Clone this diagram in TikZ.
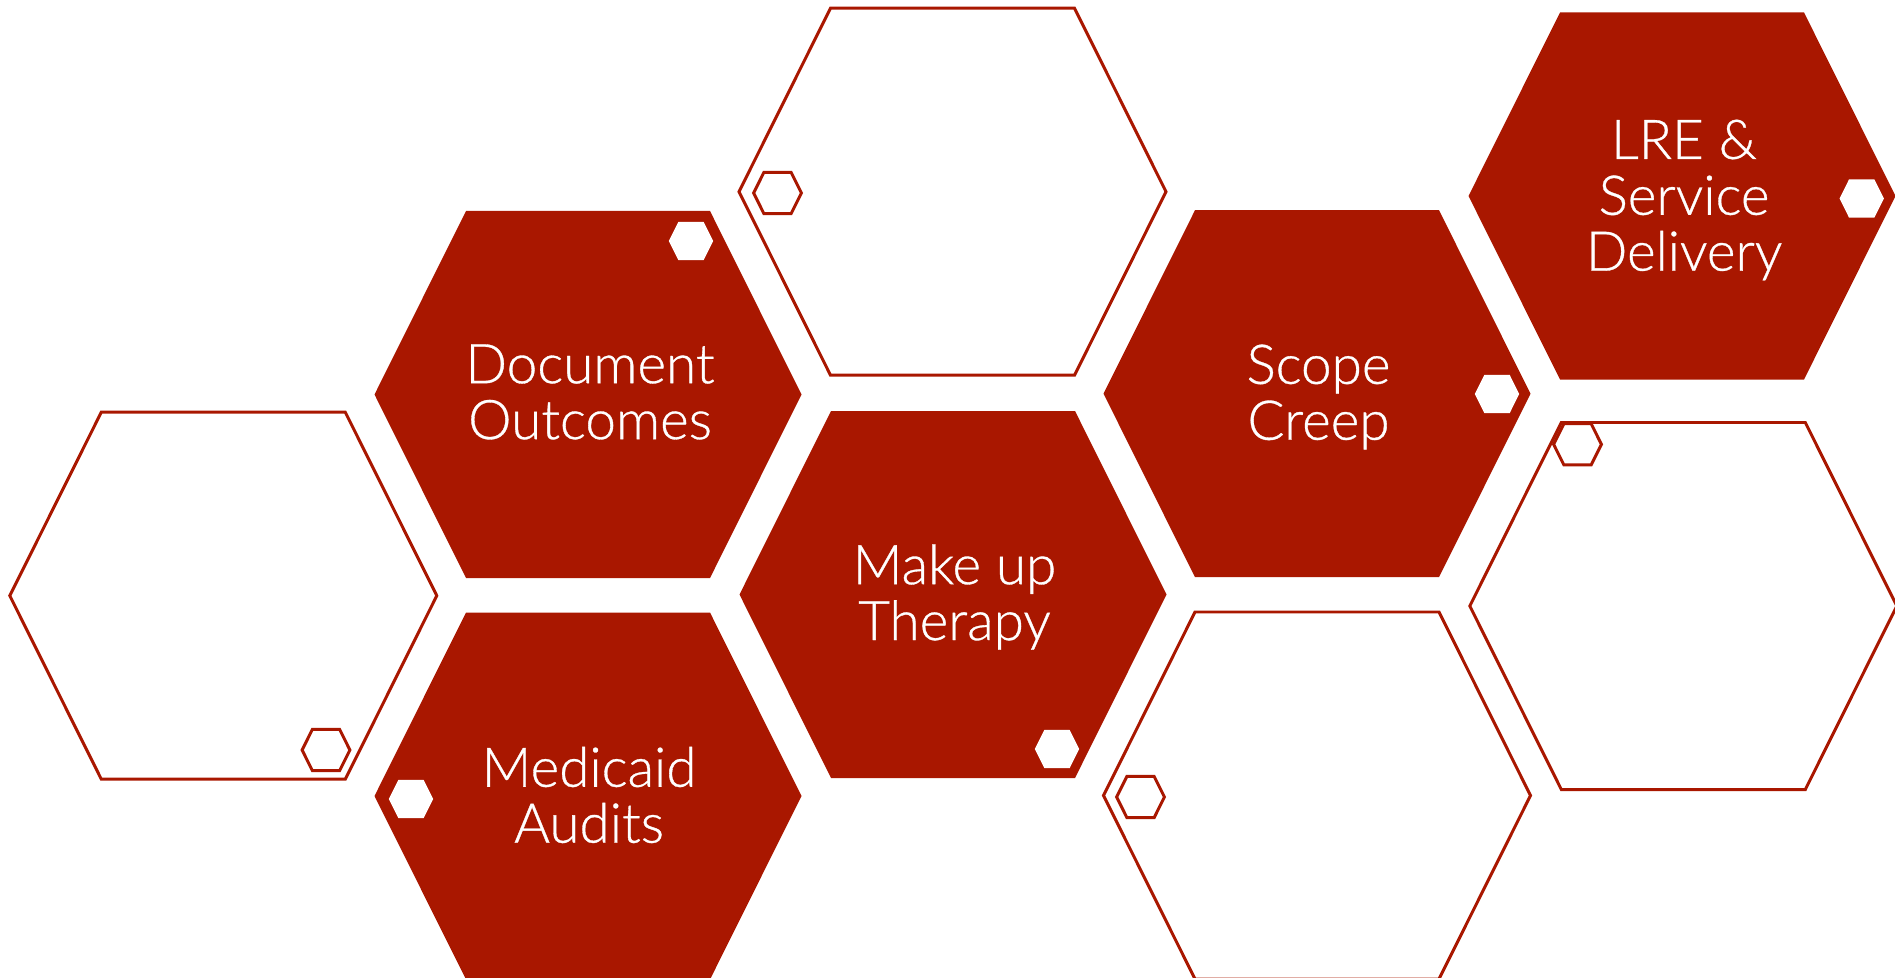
\documentclass[tikz,border=0pt]{standalone}
\usepackage{fontspec}
\usepackage{xcolor}
\newfontfamily\hexfont[FakeBold=0.6]{Lato Light}
\definecolor{hexred}{RGB}{169,23,0}
\tikzset{
	hexagon/.pic = {\path[pic actions] (-213.5,0) -- (-122,183.5) -- (122,183.5) -- (213.5,0) -- (122,-183.5) -- (-122,-183.5) -- cycle;},
	bigfill/.style = {fill = hexred},
	bigline/.style = {draw = hexred, line width = 0.85pt},
	dotfill/.style = {fill = white, scale = 0.104},
	dotline/.style = {fill = white, draw = hexred, line width = 0.85pt, scale = 0.112},
	hextext/.style = {text = white, align = center, inner sep = 0pt, font = \hexfont\fontsize{15.6pt}{15.9pt}\selectfont}
}

\begin{document}
\begin{tikzpicture}[x = 0.1mm, y = -0.1mm]
	\useasboundingbox (0,0) rectangle (1895,978);
	
	% filled cells
	\foreach \x/\y in {588/394.5, 588/796, 953/594.5, 1317/393.7, 1682/196}{
		\pic[bigfill] at (\x,\y) {hexagon};
	}
	
	% empty cells
	\foreach \x/\y in {223.3/595.7, 952.5/191.7, 1317/795.5, 1683.3/606}{
		\pic[bigline] at (\x,\y) {hexagon};
	}
	
	% small marks
	\foreach \x/\y in {691/241, 411/799, 1057/749, 1497/394, 1861.7/198.5}{
		\pic[dotfill] at (\x,\y) {hexagon};
	}
	\foreach \x/\y in {326/750, 777.5/193, 1140.5/797, 1577.5/444.3}{
		\pic[dotline] at (\x,\y) {hexagon};
	}
	
	% texts
	\node[hextext] (docs) at (590,392) {Document\\Outcomes};
	\node[hextext] (audits) at (589,795) {Medicaid\\Audits};
	\node[hextext] (makeup) at (954.5,597) {Make up\\Therapy};
	\node[hextext] (scope) at (1318.5,397) {Scope\\Creep};
	\node[hextext] (lre) at (1684,200) {LRE \&\\Service\\Delivery};
	
\end{tikzpicture}
\end{document}
